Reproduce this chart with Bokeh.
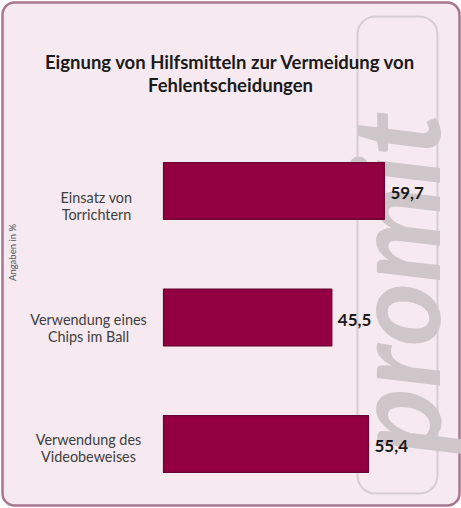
import math
from bokeh.plotting import figure
from bokeh.models import Range1d, ColumnDataSource, BoxAnnotation
from bokeh.core.properties import value
from bokeh.embed import file_html
from bokeh.resources import INLINE

# ---- data ----
categories = ["Einsatz von\nTorrichtern", "Verwendung eines\nChips im Ball", "Verwendung des\nVideobeweises"]
values = [59.7, 45.5, 55.4]
value_labels = ["59,7", "45,5", "55,4"]
title_lines = ["Eignung von Hilfsmitteln zur Vermeidung von", "Fehlentscheidungen"]
unit_note = "Angaben in %"

W, H = 461, 508
# pixel mapping: x=0 at px 163, 3.70 px per unit; row 0 at px 190.5, 126.5 px per row
X0, SX = 163.0, 3.70
Y0, SY = 190.5, 126.5

def px2x(px):
    return (px - X0) / SX

def px2y(py):
    return (py - Y0) / SY

p = figure(width=W, height=H, output_backend="svg", toolbar_location=None,
           x_range=Range1d(px2x(0), px2x(W)), y_range=Range1d(px2y(H), px2y(0)),
           min_border=0)
p.axis.visible = False
p.grid.visible = False
p.outline_line_color = None
p.background_fill_color = "white"
p.border_fill_color = "white"

# outer rounded panel
p.add_layout(BoxAnnotation(left=px2x(2), right=px2x(459), top=px2y(2), bottom=px2y(505),
                           fill_color="#f6eaf0", fill_alpha=1.0,
                           line_color="#a8778f", line_alpha=1.0, line_width=2.5,
                           border_radius=12, level="underlay"))
# watermark outline
p.add_layout(BoxAnnotation(left=px2x(357), right=px2x(437), top=px2y(16), bottom=px2y(493),
                           fill_color="#f6eaf0", fill_alpha=0.0,
                           line_color="#d6cdd2", line_alpha=1.0, line_width=2,
                           border_radius=18, level="underlay"))
# watermark text
p.text(x=[px2x(392)], y=[px2y(282)], text=["promit"], angle=math.pi / 2,
       text_font=value("Lato"), text_font_style="bold italic",
       text_font_size="122px", text_color="#cfc6ca",
       text_align="center", text_baseline="alphabetic")

rows = list(range(len(values)))
src = ColumnDataSource(dict(y=rows, v=values, cat=categories, lab=value_labels,
                            zero=[0] * len(values),
                            cat_dx=[8, 0, 0], cat_dy=[15, 10, 4]))

p.hbar(y="y", left="zero", right="v", height=0.45, source=src,
       fill_color="#930041", line_color="#6a0030", line_width=1.2)

p.text(x=px2x(88), y="y", text="cat", source=src, x_offset="cat_dx", y_offset="cat_dy",
       text_font=value("Lato"), text_font_size="14.4px", text_color="#404040",
       text_align="center", text_baseline="middle", text_line_height=1.0)

p.text(x="v", y="y", text="lab", source=src, x_offset=6, y_offset=2,
       text_font=value("Lato"), text_font_style="bold", text_font_size="17px",
       text_color="#1a1a1a", text_align="left", text_baseline="middle")

p.text(x=[px2x(230)] * 2, y=[px2y(61), px2y(84)], text=title_lines,
       text_font=value("Lato"), text_font_style="bold", text_font_size="18.5px",
       text_color="#1a1a1a", text_align="center", text_baseline="middle")

p.text(x=[px2x(12)], y=[px2y(252)], text=[unit_note], angle=math.pi / 2,
       text_font=value("Lato"), text_font_size="9.5px", text_color="#555555",
       text_align="center", text_baseline="middle")

open("out.html", "w").write(file_html(p, INLINE))
